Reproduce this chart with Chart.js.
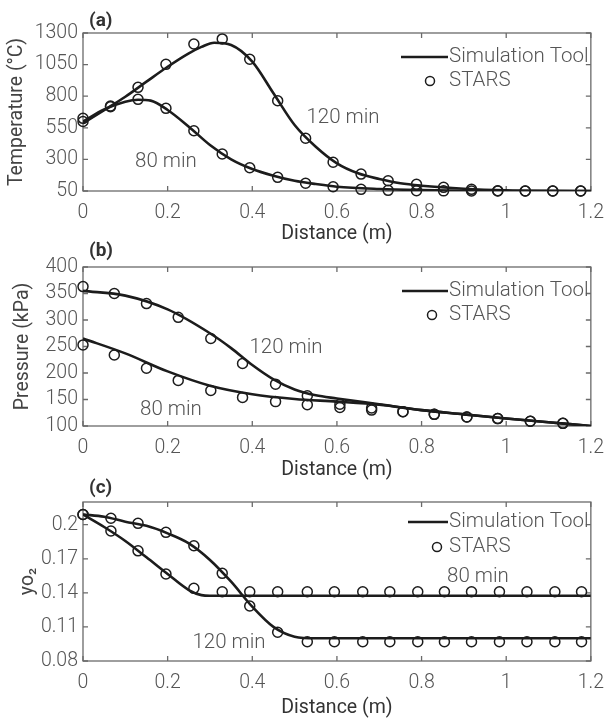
<!DOCTYPE html>
<html>
<head>
<meta charset="utf-8">
<script src="https://cdn.jsdelivr.net/npm/chart.js@4.4.1/dist/chart.umd.min.js"></script>
<style>
  body { margin: 0; background: #fff; }
  #wrap { position: relative; width: 614px; height: 720px; }
  canvas { position: absolute; left: 0; top: 0; }
</style>
</head>
<body>
<div id="wrap">
  <canvas id="chartA" width="614" height="720"></canvas>
  <canvas id="chartB" width="614" height="720"></canvas>
  <canvas id="chartC" width="614" height="720"></canvas>
</div>
<script>
// x ticks shared by all three panels
var xTicks = [0, 0.2, 0.4, 0.6, 0.8, 1, 1.2];

// (a) temperature
var yTicksA = [50, 300, 550, 800, 1050, 1300];
var starsXA = [0, 0.065, 0.13, 0.196, 0.262, 0.329, 0.394, 0.46, 0.526, 0.591, 0.657, 0.721, 0.788, 0.852, 0.918, 0.98, 1.045, 1.11, 1.176];
var stars80A = [600, 717, 775, 704, 527, 343, 234, 158, 111, 84, 63, 55, 52, 51, 50, 50, 50, 50, 50];
var stars120A = [625, 722, 870, 1052, 1213, 1253, 1092, 764, 467, 277, 184, 131, 103, 79, 63, 52, 50, 50, 50];
var sim80XA = [0, 0.05, 0.1, 0.13, 0.16, 0.2, 0.25, 0.3, 0.35, 0.4, 0.45, 0.5, 0.55, 0.6, 0.7, 0.8, 0.9, 1.0, 1.2];
var sim80A = [600, 696, 757, 772, 765, 691, 559, 414, 301, 224, 171, 131, 105, 84, 66, 57, 52, 50, 50];
var sim120XA = [0, 0.05, 0.1, 0.15, 0.2, 0.25, 0.28, 0.31, 0.35, 0.4, 0.45, 0.5, 0.55, 0.6, 0.65, 0.7, 0.75, 0.8, 0.9, 1.0, 1.1, 1.2];
var sim120A = [585, 690, 796, 915, 1033, 1139, 1190, 1223, 1205, 1073, 823, 572, 400, 269, 190, 145, 111, 92, 68, 55, 51, 50];

// (b) pressure
var yTicksB = [100, 150, 200, 250, 300, 350, 400];
var starsXB = [0, 0.074, 0.15, 0.225, 0.302, 0.377, 0.455, 0.53, 0.607, 0.682, 0.756, 0.83, 0.907, 0.98, 1.057, 1.134];
var stars80B = [253, 234, 209, 186, 167, 154, 146, 140, 135, 130, 127, 122, 117, 114, 109, 105];
var stars120B = [363, 350, 331, 305, 265, 218, 179, 157, 141, 134, 127, 122, 117, 114, 109, 105];
var sim80XB = [0, 0.1, 0.2, 0.3, 0.4, 0.5, 0.6, 0.7, 0.8, 0.9, 1.0, 1.1, 1.2];
var sim80B = [265, 237, 203, 176, 160, 151, 146, 140, 130, 122, 114, 107, 100];
var sim120XB = [0, 0.1, 0.2, 0.3, 0.35, 0.4, 0.45, 0.5, 0.55, 0.6, 0.7, 0.8, 0.9, 1.0, 1.1, 1.2];
var sim120B = [355, 346, 320, 275, 247, 215, 188, 169, 158, 152, 141, 130, 122, 114, 107, 100];

// (c) yo2
var yTicksC = [0.08, 0.11, 0.14, 0.17, 0.2];
var starsXC = [0, 0.066, 0.13, 0.196, 0.262, 0.329, 0.394, 0.46, 0.53, 0.594, 0.661, 0.725, 0.791, 0.854, 0.918, 0.984, 1.049, 1.115, 1.178];
var stars80C = [0.209, 0.1945, 0.177, 0.1566, 0.144, 0.141, 0.141, 0.141, 0.141, 0.141, 0.141, 0.141, 0.141, 0.141, 0.141, 0.141, 0.141, 0.141, 0.141];
var stars120C = [0.209, 0.2057, 0.2012, 0.1933, 0.1815, 0.1572, 0.1284, 0.1053, 0.097, 0.097, 0.097, 0.097, 0.097, 0.097, 0.097, 0.097, 0.097, 0.097, 0.097];
var sim80XC = [0, 0.05, 0.1, 0.15, 0.2, 0.25, 0.28, 0.3, 0.4, 0.6, 0.8, 1.0, 1.2];
var sim80C = [0.209, 0.198, 0.1857, 0.1713, 0.1566, 0.1425, 0.138, 0.1375, 0.1375, 0.1375, 0.1375, 0.1375, 0.1375];
var sim120XC = [0, 0.05, 0.1, 0.15, 0.2, 0.25, 0.3, 0.35, 0.4, 0.45, 0.5, 0.55, 0.6, 0.8, 1.0, 1.2];
var sim120C = [0.209, 0.207, 0.2027, 0.199, 0.1924, 0.1836, 0.169, 0.1498, 0.1278, 0.110, 0.1014, 0.1, 0.1, 0.1, 0.1, 0.1];

var FONT = 'Roboto';
var TXT = '#555';

function pts(xs, ys) {
    return xs.map(function (x, i) { return { x: x, y: ys[i] }; });
}

// box round the plot area with inward ticks on all four sides (matlab look)
var boxPlugin = {
    id: 'box',
    beforeDatasetsDraw: function (chart) {
        var ctx = chart.ctx, a = chart.chartArea;
        var xs = chart.scales.x, ys = chart.scales.y;
        ctx.save();
        ctx.strokeStyle = '#6a6a6a';
        ctx.lineWidth = 1.3;
        ctx.strokeRect(a.left, a.top, a.right - a.left, a.bottom - a.top);
        ctx.beginPath();
        xs.ticks.forEach(function (t) {
            var p = xs.getPixelForValue(t.value);
            ctx.moveTo(p, a.bottom); ctx.lineTo(p, a.bottom - 5);
            ctx.moveTo(p, a.top); ctx.lineTo(p, a.top + 5);
        });
        ys.ticks.forEach(function (t) {
            var p = ys.getPixelForValue(t.value);
            ctx.moveTo(a.left, p); ctx.lineTo(a.left + 5, p);
            ctx.moveTo(a.right, p); ctx.lineTo(a.right - 5, p);
        });
        ctx.stroke();
        ctx.restore();
    }
};

// panel letter, curve labels and the legend
var notesPlugin = {
    id: 'notes',
    afterDraw: function (chart, args, o) {
        var ctx = chart.ctx;
        ctx.save();
        ctx.fillStyle = '#333';
        ctx.font = 'bold 19px ' + FONT;
        ctx.textBaseline = 'middle';
        ctx.textAlign = 'left';
        ctx.fillText(o.panel, 89, o.panelY);

        ctx.fillStyle = TXT;
        ctx.font = '300 20.5px ' + FONT;
        ctx.textAlign = 'center';
        o.labels.forEach(function (l) { ctx.fillText(l.text, l.x, l.y); });

        var lg = o.legend;
        ctx.strokeStyle = '#1c1c1c';
        ctx.lineWidth = 2.6;
        ctx.beginPath();
        ctx.moveTo(lg.lineFrom, lg.y1); ctx.lineTo(448, lg.y1);
        ctx.stroke();
        ctx.lineWidth = 1.5;
        ctx.beginPath();
        ctx.arc(lg.circleX, lg.y2, 4.5, 0, Math.PI * 2);
        ctx.stroke();
        ctx.textAlign = 'left';
        ctx.fillText('Simulation Tool', 449, lg.y1);
        ctx.fillText('STARS', 449, lg.y2);
        ctx.restore();
    }
};

function makeChart(id, p) {
    return new Chart(document.getElementById(id), {
        type: 'scatter',
        data: {
            datasets: [
                { data: pts(p.s80x, p.s80), showLine: true, cubicInterpolationMode: 'monotone', borderColor: '#1c1c1c', borderWidth: 2.6, pointRadius: 0 },
                { data: pts(p.s120x, p.s120), showLine: true, cubicInterpolationMode: 'monotone', borderColor: '#1c1c1c', borderWidth: 2.6, pointRadius: 0 },
                { data: pts(p.starsX, p.st80), pointRadius: 5, borderColor: '#1c1c1c', borderWidth: 1.5, backgroundColor: 'rgba(0,0,0,0)', clip: false },
                { data: pts(p.starsX, p.st120), pointRadius: 5, borderColor: '#1c1c1c', borderWidth: 1.5, backgroundColor: 'rgba(0,0,0,0)', clip: false }
            ]
        },
        options: {
            responsive: false,
            animation: false,
            devicePixelRatio: 1,
            layout: { padding: { top: p.top, left: 0, right: 13, bottom: 720 - p.bottom - 59 } },
            plugins: {
                legend: { display: false },
                tooltip: { enabled: false },
                notes: p.notes
            },
            scales: {
                x: {
                    type: 'linear', min: 0, max: 1.2,
                    grid: { display: false, drawTicks: false },
                    border: { display: false },
                    afterBuildTicks: function (s) { s.ticks = xTicks.map(function (v) { return { value: v }; }); },
                    afterFit: function (s) { s.height = 59; },
                    ticks: { padding: 10, color: TXT, font: { family: FONT, size: 19.5, weight: 300 }, callback: function (v) { return String(v); } },
                    title: { display: true, text: 'Distance (m)', color: '#333', padding: { top: 0, bottom: p.xTitlePad }, font: { family: FONT, size: 19.5, lineHeight: 1 } }
                },
                y: {
                    min: p.ymin, max: p.ymax,
                    grid: { display: false, drawTicks: false },
                    border: { display: false },
                    afterBuildTicks: function (s) { s.ticks = p.yTicks.map(function (v) { return { value: v }; }); },
                    afterFit: function (s) { s.width = 83; },
                    ticks: { padding: 5, color: TXT, font: { family: FONT, size: 19.5, weight: 300 }, callback: function (v) { return String(v); } },
                    title: { display: true, text: p.yTitle, color: '#444', padding: { top: p.yTitlePad, bottom: 0 }, font: { family: FONT, size: 19.5, lineHeight: 1 } }
                }
            }
        },
        plugins: [boxPlugin, notesPlugin]
    });
}

var chartA = makeChart('chartA', {
    top: 33, bottom: 191, ymin: 50, ymax: 1300, yTicks: yTicksA,
    yTitle: 'Temperature (°C)', yTitlePad: 7, xTitlePad: 6.5,
    starsX: starsXA, st80: stars80A, st120: stars120A,
    s80x: sim80XA, s80: sim80A, s120x: sim120XA, s120: sim120A,
    notes: {
        panel: '(a)', panelY: 21,
        labels: [{ text: '120 min', x: 343, y: 118 }, { text: '80 min', x: 166, y: 162 }],
        legend: { lineFrom: 401, y1: 57, circleX: 430, y2: 81 }
    }
});

var chartB = makeChart('chartB', {
    top: 267, bottom: 426, ymin: 100, ymax: 400, yTicks: yTicksB,
    yTitle: 'Pressure (kPa)', yTitlePad: 13, xTitlePad: 5.5,
    starsX: starsXB, st80: stars80B, st120: stars120B,
    s80x: sim80XB, s80: sim80B, s120x: sim120XB, s120: sim120B,
    notes: {
        panel: '(b)', panelY: 251,
        labels: [{ text: '120 min', x: 286, y: 348 }, { text: '80 min', x: 171, y: 410 }],
        legend: { lineFrom: 402, y1: 291, circleX: 432, y2: 315 }
    }
});

var chartC = makeChart('chartC', {
    top: 502, bottom: 661, ymin: 0.08, ymax: 0.22, yTicks: yTicksC,
    yTitle: 'yo₂', yTitlePad: 18, xTitlePad: 2.5,
    starsX: starsXC, st80: stars80C, st120: stars120C,
    s80x: sim80XC, s80: sim80C, s120x: sim120XC, s120: sim120C,
    notes: {
        panel: '(c)', panelY: 488,
        labels: [{ text: '80 min', x: 478, y: 577 }, { text: '120 min', x: 229, y: 643 }],
        legend: { lineFrom: 408, y1: 522, circleX: 437, y2: 547 }
    }
});
</script>
</body>
</html>
